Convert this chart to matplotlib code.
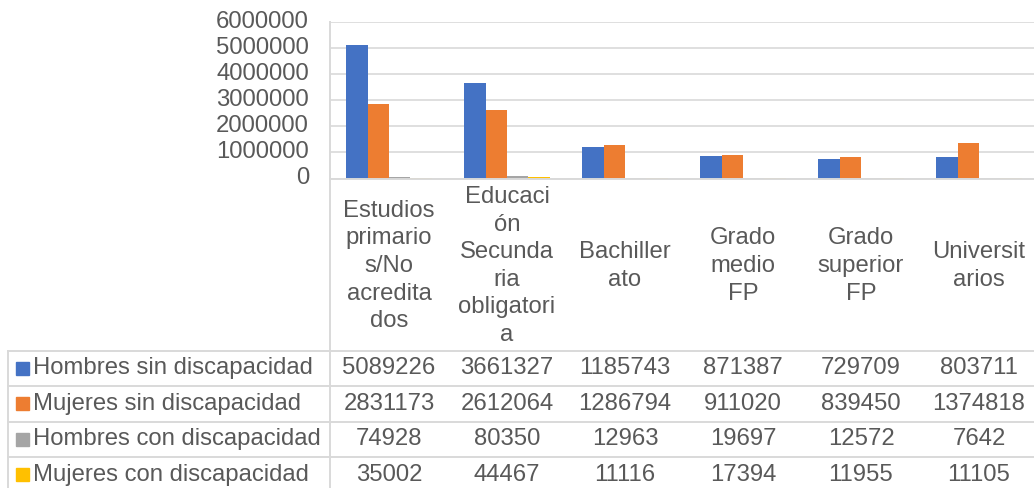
import matplotlib
matplotlib.use("Agg")
import matplotlib.pyplot as plt
from matplotlib.patches import Rectangle

categories = [
    "Estudios primarios/No acreditados",
    "Educación Secundaria obligatoria",
    "Bachillerato",
    "Grado medio FP",
    "Grado superior FP",
    "Universitarios",
]
category_labels = [
    "Estudios\nprimario\ns/No\nacredita\ndos",
    "Educaci\nón\nSecunda\nria\nobligatori\na",
    "Bachiller\nato",
    "Grado\nmedio\nFP",
    "Grado\nsuperior\nFP",
    "Universit\narios",
]
series_names = [
    "Hombres sin discapacidad",
    "Mujeres sin discapacidad",
    "Hombres con discapacidad",
    "Mujeres con discapacidad",
]
hombres_sin = [5089226, 3661327, 1185743, 871387, 729709, 803711]
mujeres_sin = [2831173, 2612064, 1286794, 911020, 839450, 1374818]
hombres_con = [74928, 80350, 12963, 19697, 12572, 7642]
mujeres_con = [35002, 44467, 11116, 17394, 11955, 11105]
series_values = [hombres_sin, mujeres_sin, hombres_con, mujeres_con]
colors = ["#4472C4", "#ED7D31", "#A5A5A5", "#FFC000"]
yticks = [0, 1000000, 2000000, 3000000, 4000000, 5000000, 6000000]

FONT = "Liberation Sans"
FS = 17.2
TXT = "#595959"
GRID = "#D9D9D9"

W, H = 1034, 488
fig = plt.figure(figsize=(W / 100, H / 100), dpi=100)

# layout in pixels
plot_left, col_w = 330, 118
plot_top, plot_bottom = 21.5, 178.5
ncat = len(categories)
plot_right = plot_left + col_w * ncat

def fx(x):
    return x / W

def fy(y):
    return 1 - y / H

ax = fig.add_axes([fx(plot_left), fy(plot_bottom), (plot_right - plot_left) / W,
                   (plot_bottom - plot_top) / H])
bw = 0.181
for i, (vals, c) in enumerate(zip(series_values, colors)):
    xs = [k + (i - 1.5) * bw for k in range(ncat)]
    ax.bar(xs, vals, width=bw, color=c, zorder=3)
ax.set_xlim(-0.5, ncat - 0.5)
ax.set_ylim(0, 6000000)
ax.set_yticks(yticks)
ax.yaxis.grid(True, color=GRID, linewidth=1.2, zorder=0)
ax.set_xticks([])
ax.tick_params(axis="y", length=0, labelleft=False)
for s in ax.spines.values():
    s.set_visible(False)
ax.patch.set_alpha(0)

# overlay axes in pixel coordinates
ov = fig.add_axes([0, 0, 1, 1])
ov.set_xlim(0, W)
ov.set_ylim(H, 0)
ov.axis("off")
ov.patch.set_alpha(0)

# y tick labels
for t in yticks:
    y = plot_bottom - (plot_bottom - plot_top) * t / 6000000
    ov.text(309, y, f"{t}", ha="right", va="center", fontsize=FS, family=FONT, color=TXT)

# baseline
ov.plot([plot_left, W + 10], [plot_bottom, plot_bottom], color=GRID, lw=1.4)
# vertical line at plot left
ov.plot([plot_left, plot_left], [plot_top, H], color=GRID, lw=1.4)

# category labels
for k, lab in enumerate(category_labels):
    cx = plot_left + col_w * (k + 0.5)
    ov.text(cx, 266, lab, ha="center", va="center", fontsize=FS, family=FONT,
            color=TXT, linespacing=1.33, multialignment="center")

# data table
row_lines = [350.7, 386.2, 421.7, 457.3]
for y in row_lines:
    ov.plot([8, W + 10], [y, y], color=GRID, lw=1.4)
ov.plot([8, 8], [row_lines[0], H], color=GRID, lw=1.4)
row_h = row_lines[1] - row_lines[0]
for r, (name, vals, c) in enumerate(zip(series_names, series_values, colors)):
    yc = row_lines[0] + row_h * (r + 0.5)
    ov.add_patch(Rectangle((16, yc - 6.5), 13, 13, color=c))
    ov.text(33, yc, name, ha="left", va="center", fontsize=FS, family=FONT, color=TXT)
    for k, v in enumerate(vals):
        cx = plot_left + col_w * (k + 0.5)
        ov.text(cx, yc, f"{v}", ha="center", va="center", fontsize=FS, family=FONT, color=TXT)

fig.savefig("out.png", dpi=100)
